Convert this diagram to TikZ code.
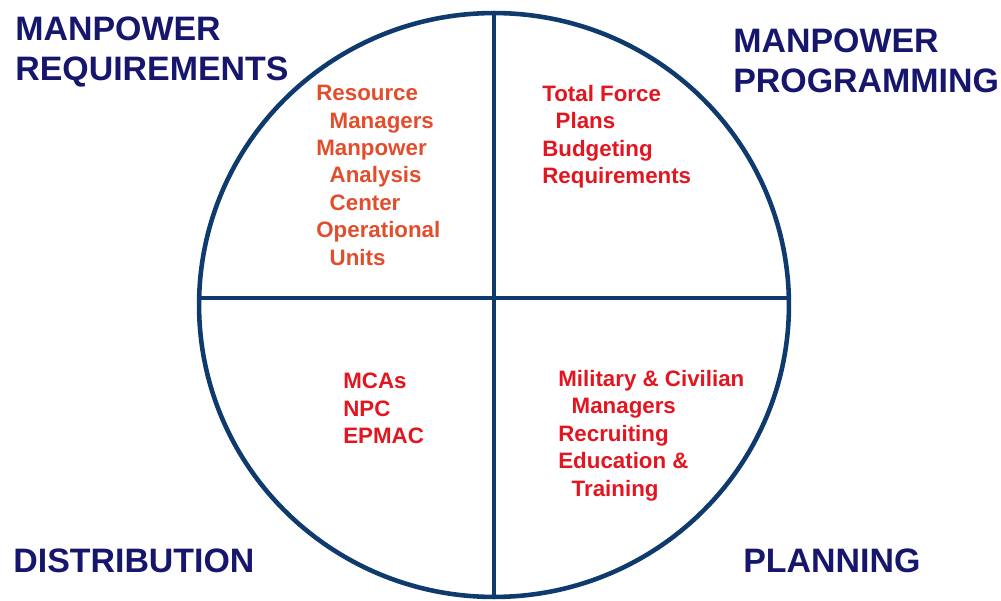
\documentclass[tikz,border=0pt]{standalone}
\usepackage{fontspec}
\setmainfont{Liberation Sans}
\usepackage{tikz}

\definecolor{ringblue}{RGB}{14,58,110}
\definecolor{titlenavy}{RGB}{22,22,108}
\definecolor{orangered}{RGB}{226,78,44}
\definecolor{itemred}{RGB}{226,22,32}

\begin{document}
\begin{tikzpicture}[line cap=round,line join=round,x=0.02cm,y=-0.02cm,
  title/.style={anchor=north west,inner sep=0pt,align=left,text=titlenavy,
    font=\bfseries\fontsize{19.3}{23.2}\selectfont},
  items/.style={anchor=north west,inner sep=0pt,align=left,
    font=\bfseries\fontsize{12.7}{15.6}\selectfont},
  ring/.style={draw=ringblue,line width=2.6pt}]

\useasboundingbox (0,0) rectangle (1001,601);

% ring and quarters
\coordinate (c) at (494,305);
\draw[ring] (c) ellipse [x radius=5.9cm,y radius=5.84cm];
\coordinate (top) at (494,13);
\coordinate (bot) at (494,597);
\coordinate (lft) at (199.1,298);
\coordinate (rgt) at (788.9,298);
\draw[ring] (top) -- (bot);
\draw[ring] (lft) -- (rgt);

% corner titles
\node[title] (req) at (15,16) {MANPOWER\\REQUIREMENTS};
\node[title] (prog) at (733,28) {MANPOWER\\PROGRAMMING};
\node[title] (dist) at (13,548) {DISTRIBUTION};
\node[title] (plan) at (743,548) {PLANNING};

% quarter contents
\node[items,text=orangered] (reqlist) at (316,85)
  {Resource\\\hspace*{0.6em}Managers\\Manpower\\\hspace*{0.6em}Analysis\\\hspace*{0.6em}Center\\Operational\\\hspace*{0.6em}Units};
\node[items,text=itemred] (proglist) at (542,85)
  {Total Force\\\hspace*{0.6em}Plans\\Budgeting\\Requirements};
\node[items,text=itemred] (distlist) at (343,373)
  {MCAs\\NPC\\EPMAC};
\node[items,text=itemred] (planlist) at (558,370)
  {Military \& Civilian\\\hspace*{0.6em}Managers\\Recruiting\\Education \&\\\hspace*{0.6em}Training};

\end{tikzpicture}
\end{document}
